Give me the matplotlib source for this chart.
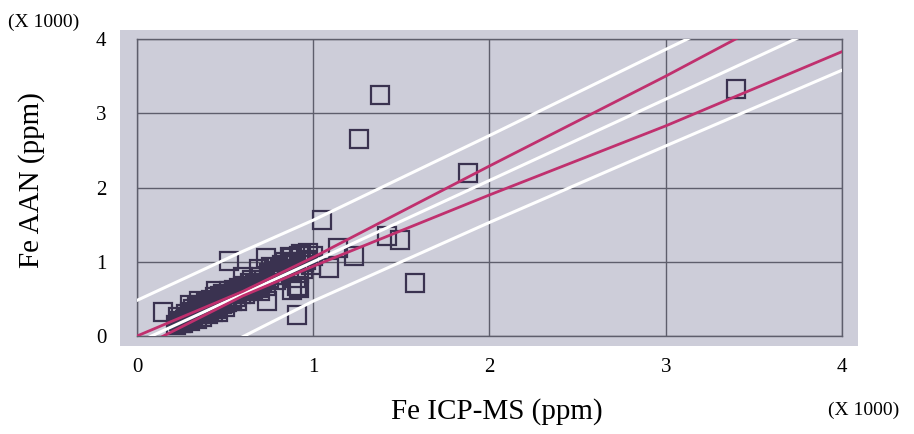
import matplotlib
matplotlib.use("Agg")
import matplotlib.pyplot as plt
from matplotlib.patches import Rectangle

# Fe measured by ICP-MS (x) and by AAN (y), ppm
fe_icp = [150, 230, 250, 270, 280, 290, 300, 310, 320, 330, 340, 350, 360,
          370, 380, 390, 400, 410, 420, 430, 440, 450, 460, 470, 480, 490,
          500, 510, 520, 520, 530, 540, 550, 560, 580, 600, 620, 640, 650,
          660, 680, 700, 720, 730, 740, 750, 760, 780, 800, 820, 840, 860,
          880, 900, 900, 905, 910, 920, 930, 940, 960, 1000, 1050, 1090,
          1140, 1230, 1260, 1380, 1420, 1490, 1580, 1880, 3400,
          220, 240, 260, 280, 300, 320, 340, 350, 370, 390, 400, 420, 430,
          450, 460, 480, 500, 510, 540, 560, 570, 590, 610, 630, 650, 670,
          690, 700, 710, 730, 750, 770, 790, 810, 830, 850, 870, 890, 920,
          950, 970, 990, 880, 920, 300, 350, 450, 600, 690]
fe_aan = [330, 260, 180, 220, 300, 250, 330, 280, 360, 300, 390, 340, 420,
          300, 380, 450, 410, 350, 480, 440, 520, 400, 470, 540, 500, 570,
          440, 530, 600, 1010, 560, 500, 620, 580, 640, 680, 600, 720, 760,
          630, 700, 800, 760, 1050, 470, 850, 930, 880, 820, 960, 1000, 900,
          1050, 980, 780, 280, 680, 650, 1100, 900, 1030, 1080, 1560, 920,
          1180, 1080, 2650, 3250, 1350, 1290, 720, 2200, 3330,
          150, 200, 170, 240, 200, 250, 230, 290, 260, 330, 290, 360, 320,
          370, 330, 430, 390, 460, 470, 520, 470, 560, 560, 660, 620, 700,
          650, 600, 720, 680, 780, 820, 760, 900, 880, 950, 1060, 1000, 1080,
          1000, 1120, 950, 620, 850, 420, 470, 600, 800, 900]

# fitted line and bands at x = 0..4000
band_x = [0, 600, 1000, 2000, 3000, 4000]
fit_y = [-90, 565, 1000, 2095, 3190, 4290]
conf_hi = [0, 600, 1060, 2290, 3500, 4760]
conf_lo = [-180, 540, 940, 1900, 2830, 3830]
pred_hi = [480, 1140, 1560, 2700, 3860, 5000]
pred_lo = [-620, -10, 470, 1530, 2560, 3580]

ticks = [0, 1000, 2000, 3000, 4000]
tick_labels = ["0", "1", "2", "3", "4"]

bg = "#cdcdd9"
grid_c = "#5e5e6c"
pink = "#c0306e"
serif = ["Liberation Serif", "DejaVu Serif"]

plt.rcParams["font.family"] = serif

fig = plt.figure(figsize=(9.14, 4.34), dpi=100)
fig.patch.set_facecolor("white")

# scanned grey panel is a bit larger than the plot frame
fig.patches.append(Rectangle((0.131, 0.203), 0.808, 0.728, transform=fig.transFigure,
                             facecolor=bg, edgecolor="none", zorder=-1))

ax = fig.add_axes([0.1499, 0.2258, 0.7713, 0.6843])
ax.set_facecolor(bg)
ax.set_xlim(0, 4000)
ax.set_ylim(0, 4000)
ax.set_xticks(ticks)
ax.set_yticks(ticks)
ax.set_xticklabels(tick_labels, fontsize=15)
ax.set_yticklabels(tick_labels, fontsize=15)
ax.tick_params(length=0)
ax.tick_params(axis="x", pad=16)
ax.tick_params(axis="y", pad=22)
ax.grid(True, color=grid_c, linewidth=1.0)
ax.set_axisbelow(True)
for s in ax.spines.values():
    s.set_color(grid_c)
    s.set_linewidth(1.0)

ax.plot(fe_icp, fe_aan, linestyle="none", marker="s", markersize=13.5,
        markerfacecolor="none", markeredgecolor="#3a3250", markeredgewidth=1.6, zorder=3)

ax.plot(band_x, pred_hi, color="white", linewidth=2.2, zorder=4)
ax.plot(band_x, pred_lo, color="white", linewidth=2.2, zorder=4)
ax.plot(band_x, fit_y, color="white", linewidth=2.2, zorder=4)
ax.plot(band_x, conf_hi, color=pink, linewidth=2.0, zorder=5)
ax.plot(band_x, conf_lo, color=pink, linewidth=2.0, zorder=5)

fig.text(0.009, 0.948, "(X 1000)", fontsize=14, ha="left", va="center")
fig.text(0.945, 0.054, "(X 1000)", fontsize=14, ha="center", va="center")
fig.text(0.544, 0.051, "Fe ICP-MS (ppm)", fontsize=21, ha="center", va="center")
fig.text(0.034, 0.585, "Fe AAN (ppm)", fontsize=21, ha="center", va="center", rotation=90)

fig.savefig("out.png", dpi=100)
